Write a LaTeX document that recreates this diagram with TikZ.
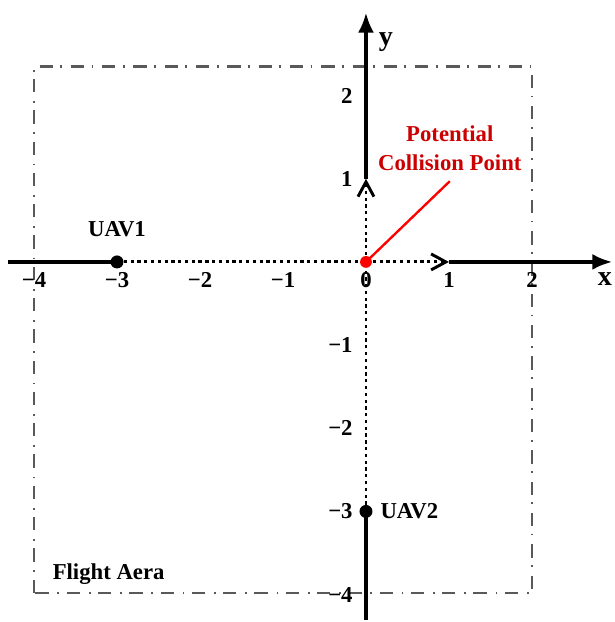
\documentclass[tikz,border=0pt]{standalone}
\usepackage{fontspec}
\setmainfont{Liberation Serif}
\usetikzlibrary{arrows.meta}
\usetikzlibrary{positioning}

\begin{document}
\begin{tikzpicture}[x=0.988cm,y=0.99cm,
        axisline/.style={line width=1.3pt},
        dotline/.style={line width=1pt,dash pattern=on 1.1pt off 1.2pt},
        areaframe/.style={line width=0.8pt,black!65,dash pattern=on 4.5pt off 2.5pt on 0.6pt off 3pt},
        lab/.style={font=\fontsize{7.7}{10}\selectfont\bfseries},
        axlab/.style={font=\fontsize{9.5}{11}\selectfont\bfseries},
        bigtip/.style={-{Latex[length=6.8pt,width=5.4pt]}},
        opentip/.style={-{Straight Barb[length=5pt,width=5.4pt,line width=1pt]}}]
        \useasboundingbox (-4.41,-4.33) rectangle (2.99,3.15);
        \coordinate (O) at (0,0);
        \coordinate (U1) at (-3,0);
        \coordinate (U2) at (0,-3);
        \coordinate (X1) at (1,0);
        \coordinate (Y1) at (0,1);
        \coordinate (XL) at (-4.31,0);
        \coordinate (XR) at (2.97,0);
        \coordinate (YB) at (0,-4.31);
        \coordinate (YT) at (0,3.0);
        % flight area
        \draw[areaframe] (-4,-3.98) rectangle (2,2.35);
        \node[lab,anchor=west] (area) at (-3.9,-3.75) {Flight Aera};
        % x axis
        \draw[axisline] (XL)--(U1);
        \draw[dotline] (U1)--(O);
        \draw[dotline,opentip] (O)--(X1);
        \draw[axisline,bigtip] (X1)--(XR);
        % y axis
        \draw[axisline] (YB)--(U2);
        \draw[dotline] (U2)--(O);
        \draw[dotline,opentip] (O)--(Y1);
        \draw[axisline,bigtip] (Y1)--(YT);
        \node[axlab] (xlab) at (2.88,-0.21) {x};
        \node[axlab] (ylab) at (0.24,2.64) {y};
        \foreach \v/\t in {-4/−4,-3/−3,-2/−2,-1/−1,0/0,1/1,2/2}
            \node[lab,below] (xt\v) at (\v,0) {\t};
        \foreach \v/\t in {-4/−4,-3/−3,-2/−2,-1/−1,1/1,2/2}
            \node[lab,left=1pt] (yt\v) at (0,\v) {\t};
        % UAVs
        \fill (U1) circle (2.2pt) node[lab,above=5pt] (uav1) {UAV1};
        \fill (U2) circle (2.2pt) node[lab,right=1.4pt] (uav2) {UAV2};
        % collision point
        \node[lab,text=red!80!black,align=center] (pcp) at (1.01,1.37) {Potential\\Collision Point};
        \draw[red,line width=0.8pt] (O)--(pcp.south);
        \fill[red] (O) circle (2pt);
    \end{tikzpicture}
\end{document}
